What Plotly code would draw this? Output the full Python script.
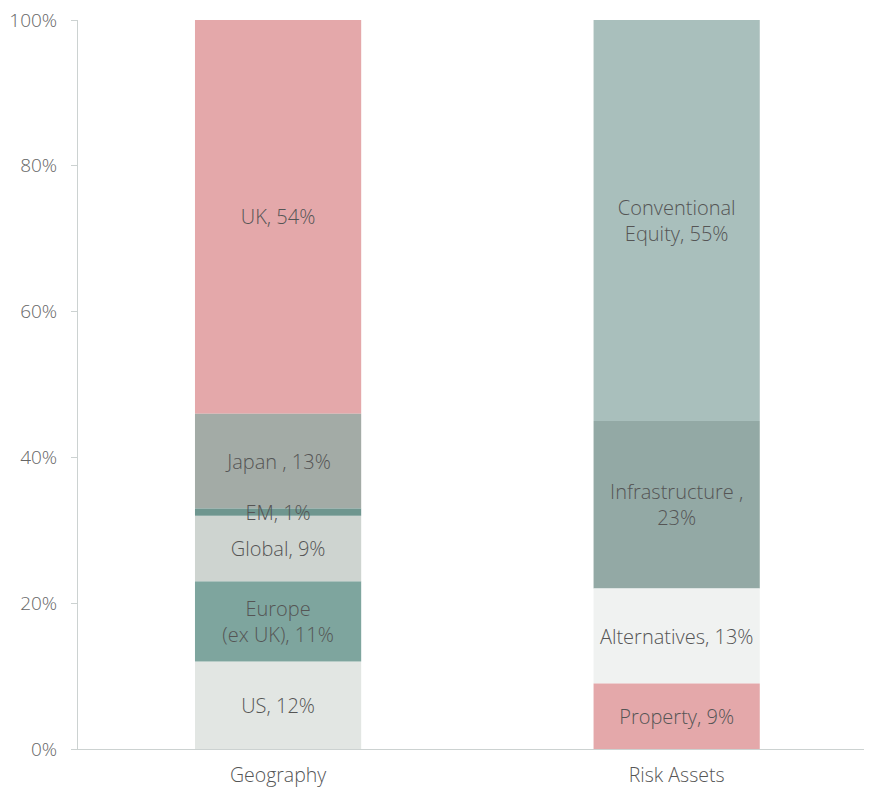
import plotly.graph_objects as go
import numpy as np

categories = ["Geography", "Risk Assets"]

geo_labels = ["US, 12%", "Europe<br>(ex UK), 11%", "Global, 9%", "EM, 1%", "Japan , 13%", "UK, 54%"]
geo_values = [12, 11, 9, 1, 13, 54]
geo_colors = ["#E2E6E3", "#7EA59E", "#CED4D0", "#6F968F", "#A3ABA6", "#E4A8AA"]

risk_labels = ["Property, 9%", "Alternatives, 13%", "Infrastructure ,<br>23%", "Conventional<br>Equity, 55%"]
risk_values = [9, 13, 23, 55]
risk_colors = ["#E4A8AA", "#F0F2F1", "#93A9A5", "#A9BFBC"]

y_ticks = [0, 20, 40, 60, 80, 100]
y_tick_text = ["0%", "20%", "40%", "60%", "80%", "100%"]

FONT = "Open Sans"
FS_BAR = 20
FS_TICK = 19
FS_CAT = 19.5

fig = go.Figure()


def segments(cat, labels, values, colors):
    bases = np.concatenate([[0], np.cumsum(values)[:-1]])
    return [dict(cat=cat, lab=l, val=v, col=c, base=float(b))
            for l, v, c, b in zip(labels, values, colors, bases)]


segs = segments(categories[0], geo_labels, geo_values, geo_colors) + \
    segments(categories[1], risk_labels, risk_values, risk_colors)
# draw the thinnest segments last so their labels sit on top
segs.sort(key=lambda s: -s["val"])

for s in segs:
    fig.add_trace(go.Bar(
        x=[s["cat"]], y=[s["val"]], base=[s["base"]], text=[s["lab"]],
        marker=dict(color=s["col"], line=dict(width=0)),
        textposition="inside", insidetextanchor="middle", textangle=0,
        textfont=dict(color="#555555", size=FS_BAR, family=FONT, weight=300),
        constraintext="none", cliponaxis=False,
        hoverinfo="skip", width=0.417, showlegend=False,
    ))

fig.update_layout(
    barmode="overlay",
    width=856, height=779,
    margin=dict(l=70, r=0, t=12, b=38, autoexpand=False),
    paper_bgcolor="white", plot_bgcolor="white",
    font=dict(family=FONT, size=FS_TICK, color="#666666", weight=300),
    uniformtext=dict(minsize=FS_BAR, mode="show"),
    showlegend=False,
)
fig.update_xaxes(
    categoryorder="array", categoryarray=categories,
    range=[-0.502, 1.47],
    showline=True, linecolor="#CCD2D1", linewidth=1,
    showgrid=False, ticks="", automargin=False, ticklabelstandoff=9,
    tickfont=dict(size=FS_CAT, color="#555555", family=FONT, weight=300),
)
fig.update_yaxes(
    range=[0, 100], tickvals=y_ticks, ticktext=y_tick_text,
    showline=True, linecolor="#CCD2D1", linewidth=1,
    ticks="outside", ticklen=6, tickcolor="#CCD2D1",
    showgrid=False, zeroline=False, automargin=False, ticklabelstandoff=10,
    ticklabeloverflow="allow",
    tickfont=dict(size=FS_TICK, color="#666666", family=FONT, weight=300),
)

fig.write_html("out.html")
